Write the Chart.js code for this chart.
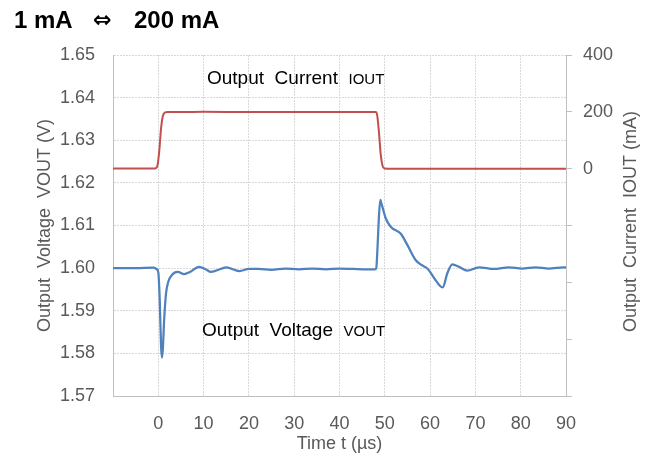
<!DOCTYPE html>
<html>
<head>
<meta charset="utf-8">
<script src="https://cdn.jsdelivr.net/npm/chart.js@4/dist/chart.umd.min.js"></script>
<style>
  html, body { margin: 0; padding: 0; background: #fff; }
  #wrap { width: 656px; height: 458px; }
</style>
</head>
<body>
<div id="wrap"><canvas id="mainChart" width="656" height="458"></canvas></div>
<script>
// Load transient: 1 mA <-> 200 mA step
const timeCurrent = [-10, -0.7, -0.2, 0.2, 0.6, 1.0, 1.5, 2, 5, 10, 20, 30, 40, 48, 48.3, 48.7, 49.1, 49.5, 49.9, 52, 60, 70, 80, 90];
const iout        = [1, 1, 10, 60, 140, 185, 198, 199, 199, 200, 199, 199, 199, 199, 190, 130, 50, 10, 1, 0, 0, 0, 0, 0];

const timeVoltage = [-10, -5, -1, -0.4, 0, 0.3, 0.6, 0.8, 1.0, 1.3, 1.7, 2.2, 3, 4.3, 5.7, 7, 9, 10.5, 11.6, 13, 15, 17.9, 20,
                     22, 25, 28, 31, 34, 37, 40, 43, 46, 47.8, 48.1, 48.4, 48.7, 49.0, 49.3, 50.2, 51.3, 53.5, 55, 56.8, 58,
                     59.4, 61.2, 62.2, 62.8, 63.8, 64.9, 66.4, 68.2, 70.8, 74.1, 77.4, 80.3, 83.3, 86.2, 89.5, 90];
const vout        = [1.6000, 1.6000, 1.6001, 1.5998, 1.5990, 1.5930, 1.5820, 1.5790, 1.5810, 1.5880, 1.5940, 1.5968, 1.5984, 1.5991, 1.5986, 1.5991, 1.6003, 1.5997, 1.5991, 1.5995, 1.6002, 1.5993, 1.5998,
                     1.5998, 1.5996, 1.5999, 1.5997, 1.5999, 1.5997, 1.5999, 1.5998, 1.5997, 1.5997, 1.5999, 1.6050, 1.6120, 1.6160, 1.6150, 1.6117, 1.6097, 1.6081, 1.6054, 1.6019, 1.6008,
                     1.5999, 1.5972, 1.5958, 1.5955, 1.5988, 1.6009, 1.6003, 1.5994, 1.6002, 1.5998, 1.6002, 1.5999, 1.6002, 1.5999, 1.6002, 1.6002];

const xTicks = [0, 10, 20, 30, 40, 50, 60, 70, 80, 90];
const yTicks = [1.57, 1.58, 1.59, 1.60, 1.61, 1.62, 1.63, 1.64, 1.65];
const y2Labels = [0, 200, 400];

const FONT = '"Liberation Sans", Arial, sans-serif';
const GRID = '#d9d9d9';
const AXIS = '#bfbfbf';
const TICK = '#595959';

const annotations = {
    id: 'annotations',
    afterDraw(chart) {
        const { ctx, scales } = chart;
        ctx.save();

        // title: 1 mA <=> 200 mA
        ctx.fillStyle = '#000';
        ctx.textBaseline = 'alphabetic';
        ctx.textAlign = 'left';
        ctx.font = 'bold 24px ' + FONT;
        ctx.fillText('1 mA', 14, 28);
        ctx.fillText('200 mA', 134, 28);
        ctx.font = 'bold 22px "DejaVu Sans", sans-serif';
        ctx.fillText('\u21D4', 93, 27);

        const drawLabel = (main, sub, t, v) => {
            const x = scales.x.getPixelForValue(t);
            const y = scales.y.getPixelForValue(v);
            ctx.font = '19px ' + FONT;
            ctx.fillText(main, x, y);
            const w = ctx.measureText(main).width;
            ctx.font = '15px ' + FONT;
            ctx.fillText(sub, x + w, y);
        };
        drawLabel('Output  Current  ', 'IOUT', 10.75, 1.6432);
        drawLabel('Output  Voltage  ', 'VOUT', 9.65, 1.584);

        // right axis title, reads bottom to top
        const a = chart.chartArea;
        ctx.fillStyle = TICK;
        ctx.font = '18px ' + FONT;
        ctx.textAlign = 'center';
        ctx.textBaseline = 'middle';
        ctx.translate(631, (a.top + a.bottom) / 2 - 4);
        ctx.rotate(-Math.PI / 2);
        ctx.fillText('Output  Current  IOUT (mA)', 0, 0);
        ctx.restore();
    }
};

new Chart(document.getElementById('mainChart').getContext('2d'), {
    type: 'line',
    data: {
        datasets: [{
            label: 'IOUT',
            data: timeCurrent.map((t, i) => ({ x: t, y: iout[i] })),
            yAxisID: 'y2',
            borderColor: '#c0504d',
            borderWidth: 2,
            pointRadius: 0,
            cubicInterpolationMode: 'monotone'
        }, {
            label: 'VOUT',
            data: timeVoltage.map((t, i) => ({ x: t, y: vout[i] })),
            yAxisID: 'y',
            borderColor: '#4f81bd',
            borderWidth: 2.25,
            pointRadius: 0,
            cubicInterpolationMode: 'monotone'
        }]
    },
    options: {
        responsive: false,
        animation: false,
        layout: { padding: { left: 14, right: 0, top: 55, bottom: 0 } },
        plugins: {
            legend: { display: false },
            tooltip: { enabled: false },
            title: { display: false }
        },
        scales: {
            x: {
                type: 'linear',
                min: -10,
                max: 90,
                afterBuildTicks: s => { s.ticks = [-10].concat(xTicks).map(v => ({ value: v })); },
                afterFit: s => { s.height = 62; },
                ticks: {
                    color: TICK,
                    font: { family: FONT, size: 18 },
                    padding: 17,
                    maxRotation: 0,
                    callback: v => (xTicks.includes(v) ? String(v) : '')
                },
                grid: { color: GRID, drawTicks: false },
                border: { color: AXIS, dash: [2, 1] },
                title: {
                    display: true,
                    text: 'Time t (\u00B5s)',
                    color: TICK,
                    font: { family: FONT, size: 18 },
                    padding: { top: 0, bottom: 3 }
                }
            },
            y: {
                position: 'left',
                min: 1.57,
                max: 1.65,
                afterBuildTicks: s => { s.ticks = yTicks.map(v => ({ value: v })); },
                afterFit: s => { s.width = 99; },
                ticks: {
                    color: TICK,
                    font: { family: FONT, size: 18 },
                    padding: 18,
                    callback: v => v.toFixed(2)
                },
                grid: { color: GRID, drawTicks: false },
                border: { color: AXIS, dash: [2, 1] },
                title: {
                    display: true,
                    text: 'Output  Voltage  VOUT (V)',
                    color: TICK,
                    font: { family: FONT, size: 18 },
                    padding: { top: 20, bottom: 0 }
                }
            },
            y2: {
                position: 'right',
                min: -800,
                max: 400,
                afterBuildTicks: s => { s.ticks = [-800, -600, -400, -200, 0, 200, 400].map(v => ({ value: v })); },
                afterFit: s => { s.width = 90; },
                ticks: {
                    color: TICK,
                    font: { family: FONT, size: 18 },
                    padding: 11,
                    callback: v => (y2Labels.includes(v) ? String(v) : '')
                },
                grid: { drawOnChartArea: false, drawTicks: true, tickLength: 6, tickColor: AXIS },
                border: { color: AXIS }
            }
        }
    },
    plugins: [annotations]
});
</script>
</body>
</html>
